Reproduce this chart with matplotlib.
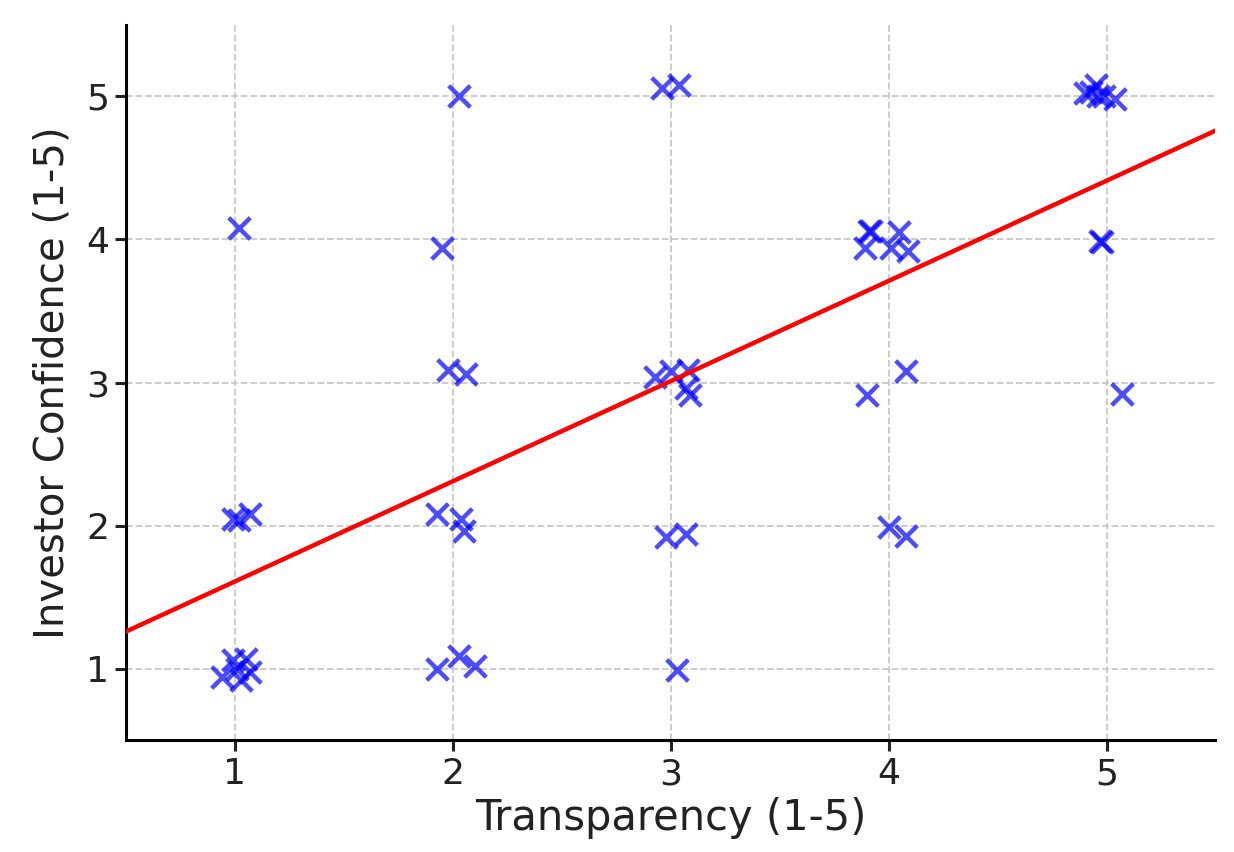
import matplotlib
matplotlib.use("Agg")
import matplotlib.pyplot as plt
import numpy as np

transparency = [0.94, 0.99, 1.03, 1.05, 1.07, 1.01,
                0.99, 1.02, 1.07,
                1.02,
                1.93, 2.03, 2.10,
                1.93, 2.04, 2.05,
                1.98, 2.06,
                1.95,
                2.03,
                3.03,
                2.98, 3.07,
                2.93, 3.00, 3.08, 3.07, 3.09,
                2.96, 3.04,
                4.00, 4.08,
                3.90, 4.08,
                3.91, 3.92, 3.89, 4.01, 4.05, 4.09,
                4.97, 4.98,
                5.07,
                4.90, 4.95, 4.96, 4.99, 5.04, 4.93]
confidence = [0.94, 1.06, 0.92, 1.07, 0.98, 1.00,
              2.05, 2.04, 2.08,
              4.08,
              1.00, 1.09, 1.02,
              2.08, 2.05, 1.96,
              3.09, 3.06,
              3.94,
              5.00,
              0.99,
              1.92, 1.94,
              3.04, 3.08, 3.09, 2.96, 2.91,
              5.06, 5.08,
              1.99, 1.93,
              2.91, 3.08,
              4.06, 4.06, 3.94, 3.94, 4.05, 3.92,
              3.99, 3.98,
              2.92,
              5.02, 5.08, 5.00, 5.00, 4.98, 5.03]

fit_slope = 0.70
fit_intercept = 0.91

fig = plt.figure(figsize=(12.34, 8.52), dpi=100)
ax = fig.add_axes([0.102, 0.131, 0.883, 0.840])

ax.scatter(transparency, confidence, marker='x', s=240, linewidths=3.2,
           color='blue', alpha=0.7, zorder=3)
xl = np.array([0.5, 5.5])
ax.plot(xl, fit_intercept + fit_slope * xl, color='red', lw=3.2, zorder=4)

ax.set_xlim(0.5, 5.5)
ax.set_ylim(0.5, 5.5)
ax.set_xticks([1, 2, 3, 4, 5])
ax.set_yticks([1, 2, 3, 4, 5])
ax.grid(True, linestyle='--', color='#c8c8c8', lw=1.3)
ax.set_axisbelow(True)
for s in ['top', 'right']:
    ax.spines[s].set_visible(False)
for s in ['left', 'bottom']:
    ax.spines[s].set_linewidth(2.2)
ax.tick_params(axis='both', labelsize=26, length=8, width=2.2, colors='#222222', pad=4)
ax.set_xlabel('Transparency (1-5)', fontsize=30, color='#222222', labelpad=4)
ax.set_ylabel('Investor Confidence (1-5)', fontsize=29, color='#222222', labelpad=10)

fig.savefig('out.png', dpi=100)
